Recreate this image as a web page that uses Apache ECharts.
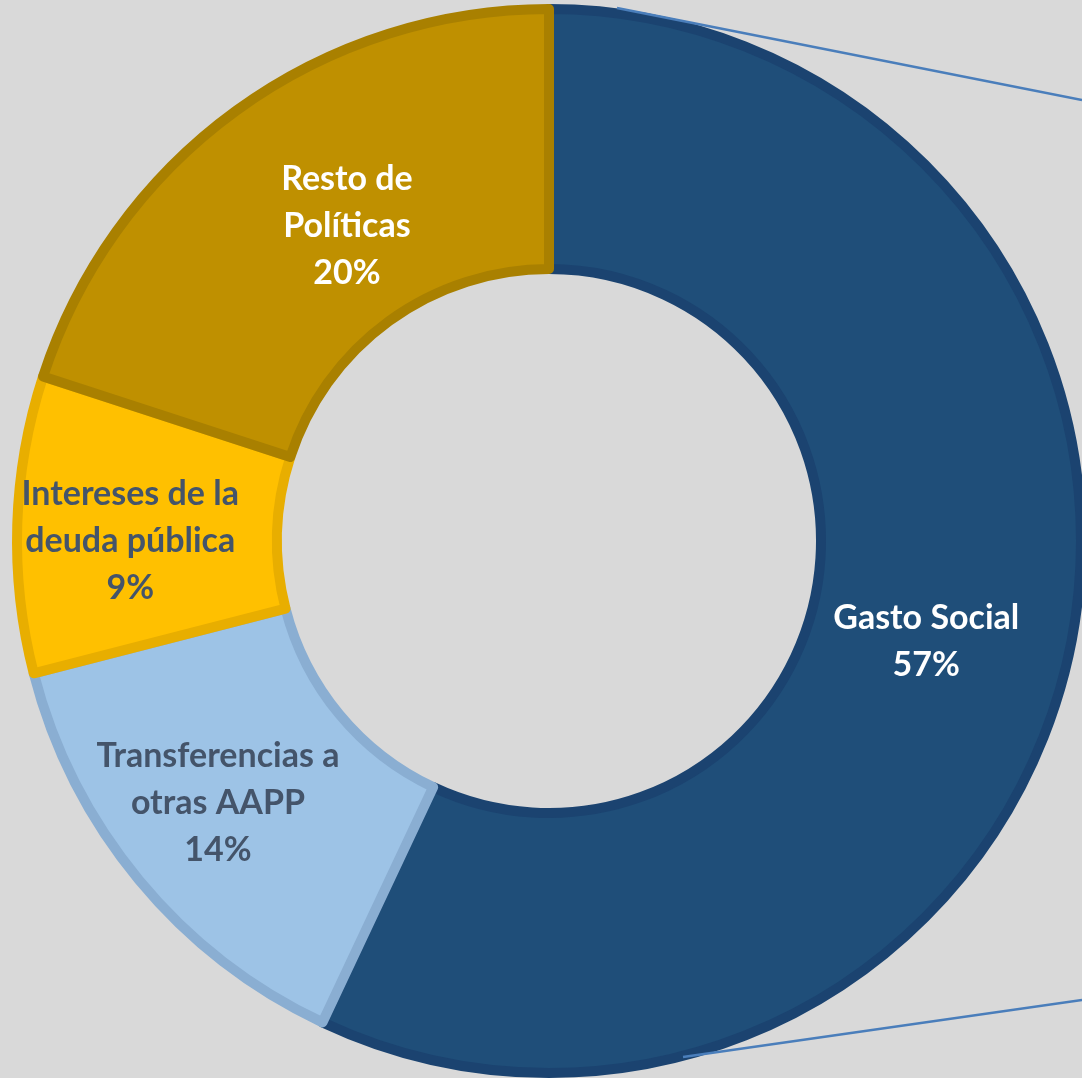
<!DOCTYPE html>
<html>
<head>
<meta charset="utf-8">
<script src="https://cdn.jsdelivr.net/npm/echarts@6/dist/echarts.min.js"></script>
<style>
    html, body { margin: 0; padding: 0; background: #d9d9d9; }
    #chart { width: 1082px; height: 1078px; }
</style>
</head>
<body>
<div id="chart"></div>
<script>
// categories in clockwise order from 12 o'clock
const categories = ['Gasto Social', 'Transferencias a\notras AAPP', 'Intereses de la\ndeuda pública', 'Resto de\nPolíticas']
const shares = [57, 14, 9, 20]

const fills = ['#1f4e79', '#9dc3e6', '#ffc000', '#bf9000']
const borders = ['#1b4370', '#8aaed2', '#e8ae00', '#a98000']
const textColors = ['#ffffff', '#44546a', '#44546a', '#ffffff']
const labelShift = [[-18, 12], [-19, 4], [-14, 13], [36, 13]]

const chart = echarts.init(document.getElementById('chart'))

let seriesData = []
categories.forEach((name, i) => {
    seriesData.push({
        name: name,
        value: shares[i],
        itemStyle: {
            color: fills[i],
            borderColor: borders[i],
            borderWidth: 10
        },
        label: {
            color: textColors[i],
            offset: labelShift[i]
        }
    })
})

const option = {
    backgroundColor: '#d9d9d9',
    animation: false,
    series: [
        {
            type: 'pie',
            center: [549, 541],
            radius: [272, 532],
            startAngle: 90,
            clockwise: true,
            avoidLabelOverlap: false,
            label: {
                show: true,
                position: 'inside',
                formatter: '{b}\n{c}%',
                fontFamily: 'Lato',
                fontWeight: 'bold',
                fontSize: 34,
                lineHeight: 47,
                align: 'center'
            },
            labelLine: {
                show: false
            },
            emphasis: {
                disabled: true
            },
            data: seriesData
        }
    ],
    // connector lines to the (cropped) detail chart on the right
    graphic: [
        {
            type: 'line',
            z: 100,
            shape: { x1: 617, y1: 8, x2: 1082, y2: 100 },
            style: { stroke: '#4a7ebb', lineWidth: 2.5 }
        },
        {
            type: 'line',
            z: 100,
            shape: { x1: 683, y1: 1057, x2: 1082, y2: 1000 },
            style: { stroke: '#4a7ebb', lineWidth: 2.5 }
        }
    ]
}

chart.setOption(option)
</script>
</body>
</html>
